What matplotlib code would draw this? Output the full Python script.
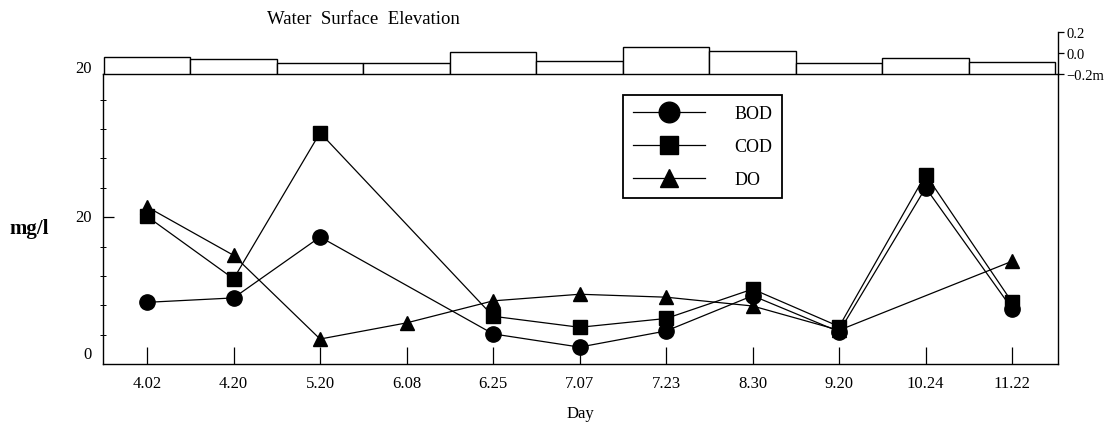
import numpy as np
import matplotlib.pyplot as plt
import matplotlib.transforms as mtransforms

plt.rcParams['font.family'] = ['Liberation Serif', 'DejaVu Serif']

days = ['4.02', '4.20', '5.20', '6.08', '6.25', '7.07', '7.23', '8.30', '9.20', '10.24', '11.22']
bod = [8.4, 9.0, 17.3, np.nan, 4.1, 2.3, 4.5, 9.3, 4.4, 24.0, 7.5]
cod = [20.1, 11.6, 31.5, np.nan, 6.5, 5.0, 6.2, 10.2, 5.1, 25.8, 8.4]
do = [21.4, 14.8, 3.4, 5.6, 8.6, 9.5, 9.1, 7.9, 4.6, np.nan, 14.0]
elevation = [-0.04, -0.06, -0.10, -0.10, 0.01, -0.08, 0.06, 0.02, -0.10, -0.05, -0.09]

fig = plt.figure(figsize=(11.13, 4.27), dpi=100)
ax = fig.add_axes([0.0925, 0.1452, 0.8581, 0.6792])
top = fig.add_axes([0.0925, 0.8244, 0.8581, 0.0984], sharex=ax)

x = np.arange(len(days))

series = [('BOD', bod, 'o', 11), ('COD', cod, 's', 10), ('DO', do, '^', 10)]
for name, vals, mk, ms in series:
    v = np.array(vals, dtype=float)
    ok = ~np.isnan(v)
    ax.plot(x[ok], v[ok], color='black', lw=0.9, marker=mk, markersize=ms,
            markerfacecolor='black', markeredgecolor='black', label=name)

ax.set_xlim(-0.51, 10.53)
ax.set_ylim(0, 39.5)
ax.set_xticks(x)
ax.set_xticklabels(days, fontsize=12)
ax.tick_params(axis='x', direction='in', length=12, width=0.9, pad=8)
ax.set_yticks([20])
ax.set_yticklabels([])
ax.set_yticks(np.arange(4, 37, 4), minor=True)
ax.tick_params(axis='y', which='major', direction='in', length=8, width=0.9)
ax.tick_params(axis='y', which='minor', direction='inout', length=5, width=0.7)
for s in ax.spines.values():
    s.set_linewidth(1.0)

trans = mtransforms.blended_transform_factory(ax.transAxes, ax.transData)
ax.text(-0.012, 1.4, '0', transform=trans, ha='right', va='center', fontsize=12)
ax.text(-0.012, 20, '20', transform=trans, ha='right', va='center', fontsize=12)
ax.text(-0.012, 40.3, '20', transform=trans, ha='right', va='center', fontsize=12, clip_on=False)

ax.text(-0.077, 0.47, 'mg/l', transform=ax.transAxes, ha='center', va='center',
        fontsize=15, fontweight='bold')
ax.set_xlabel('Day', fontsize=12, labelpad=10)

leg = ax.legend(loc='upper left', bbox_to_anchor=(0.5445, 0.9276), borderaxespad=0,
                fontsize=13, markerscale=1.35, handlelength=4.0, handletextpad=1.6,
                labelspacing=0.9, borderpad=0.55, fancybox=False, framealpha=1)
leg.get_frame().set_edgecolor('black')
leg.get_frame().set_linewidth(1.3)

# water surface elevation strip
base = -0.2
top.bar(x, np.array(elevation) - base, bottom=base, width=1.0, color='white',
        edgecolor='black', linewidth=1.0)
top.set_ylim(-0.2, 0.2)
top.set_facecolor('none')
for k in ['left', 'top', 'bottom']:
    top.spines[k].set_visible(False)
top.spines['right'].set_linewidth(1.0)
top.yaxis.tick_right()
top.set_yticks([0.2, 0.0, -0.2])
top.set_yticklabels(['0.2', '0.0', '\u22120.2m'], fontsize=10.5)
top.tick_params(axis='y', direction='out', length=4, width=0.9, pad=2)
top.tick_params(axis='x', bottom=False, labelbottom=False)
top.text(0.172, 1.12, 'Water  Surface  Elevation', transform=top.transAxes,
         ha='left', va='bottom', fontsize=13.5)

fig.savefig('out.png', dpi=100)
